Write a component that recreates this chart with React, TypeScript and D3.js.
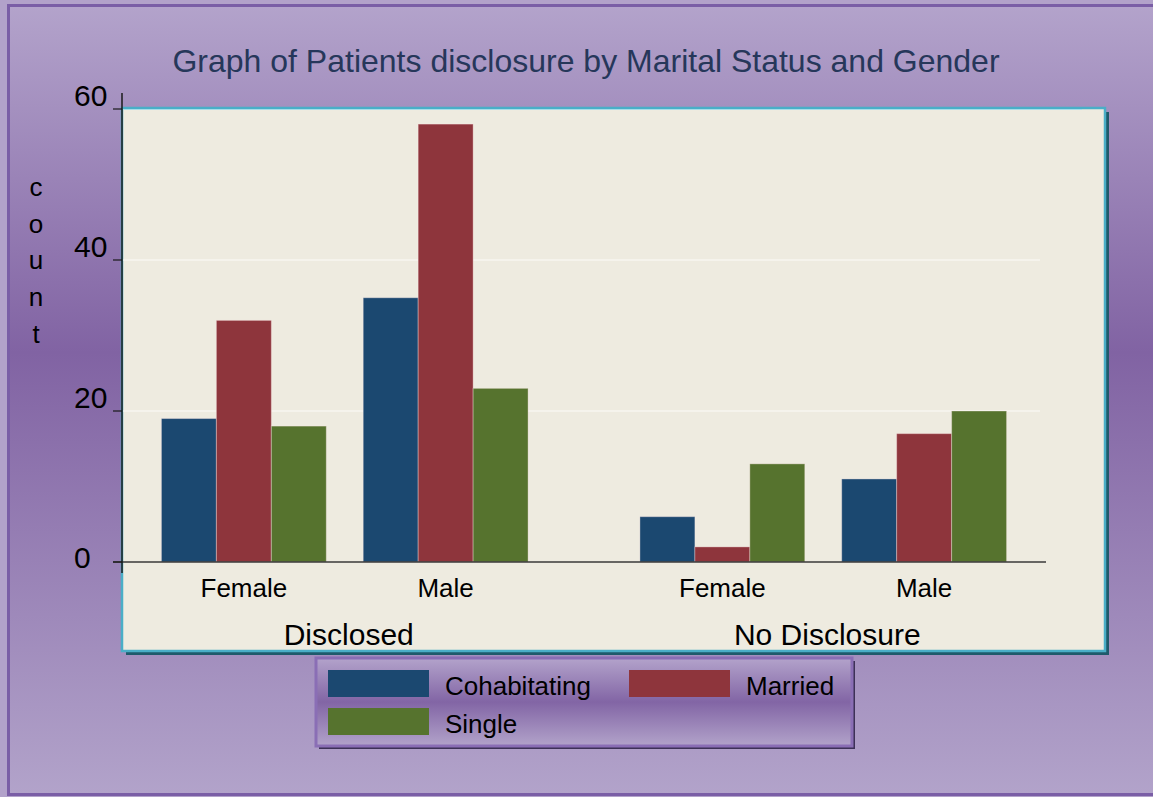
import React from "react";
import * as d3 from "d3";

const groups = ["Disclosed", "No Disclosure"];
const genders = ["Female", "Male"];
const seriesNames = ["Cohabitating", "Married", "Single"];
const cohabitating = [19, 35, 6, 11];
const married = [32, 58, 2, 17];
const single = [18, 23, 13, 20];
const yTicks = [0, 20, 40, 60];
const title = "Graph of Patients disclosure by Marital Status and Gender";
const yLabel = "count";

const seriesValues = [cohabitating, married, single];
const colors = ["#1b4870", "#8e353c", "#56732e"];

const W = 1153;
const H = 797;
const FONT = "Liberation Sans, Arial, Helvetica, sans-serif";

export default function App() {
  const y = d3.scaleLinear().domain([0, 60]).range([562, 109]);
  const x0 = d3.scaleBand<string>().domain(groups).range([122, 1046]).paddingInner(0.1566).paddingOuter(0.0438);
  const x1 = d3.scaleBand<string>().domain(genders).range([0, x0.bandwidth()]).padding(0);
  const x2 = d3.scaleBand<string>().domain(seriesNames).range([0, x1.bandwidth()]).paddingInner(0).paddingOuter(0.336);
  const color = d3.scaleOrdinal<string, string>().domain(seriesNames).range(colors);

  const cells: { g: string; gen: string; s: string; v: number }[] = [];
  groups.forEach((g, gi) =>
    genders.forEach((gen, ji) =>
      seriesNames.forEach((s, si) => {
        cells.push({ g, gen, s, v: seriesValues[si][gi * genders.length + ji] });
      })
    )
  );

  const panel = { x: 122, y: 108, w: 983, h: 543 };
  const legend = { x: 316, y: 658, w: 536, h: 88 };

  return (
    <div style={{ position: "absolute", left: 0, top: 0 }}>
      <svg width={W} height={H} style={{ display: "block" }} fontFamily={FONT}>
        <defs>
          <linearGradient id="bg" x1="0" y1="0" x2="0" y2="1">
            <stop offset="0" stopColor="#b3a3cb" />
            <stop offset="0.44" stopColor="#8163a3" />
            <stop offset="1" stopColor="#b2a3ca" />
          </linearGradient>
          <linearGradient id="lg" x1="0" y1="0" x2="0" y2="1">
            <stop offset="0" stopColor="#b3a3cb" />
            <stop offset="0.5" stopColor="#8265a5" />
            <stop offset="1" stopColor="#b2a3ca" />
          </linearGradient>
        </defs>
        <rect x={0} y={0} width={W} height={H} fill="#b2a2ca" />
        <rect x={8.5} y={5.5} width={1160} height={789} fill="url(#bg)" stroke="#7a5ea6" strokeWidth={3} />

        <text x={586} y={72} textAnchor="middle" fontSize={32} fill="#26375a">{title}</text>

        {/* panel */}
        <rect x={panel.x + 4} y={panel.y + 4} width={panel.w} height={panel.h} fill="#1f5a6b" />
        <rect x={panel.x} y={panel.y} width={panel.w} height={panel.h} fill="#eeebe0" stroke="#4aaec7" strokeWidth={2.5} />
        <line x1={panel.x + 1} x2={panel.x + 960} y1={panel.y + 1.5} y2={panel.y + 1.5} stroke="#a9dde9" strokeWidth={1} />

        {/* gridlines */}
        {yTicks.filter((t) => t > 0 && t < 60).map((t) => (
          <line key={"g" + t} x1={123} x2={1040} y1={y(t)} y2={y(t)} stroke="#fbfbf8" strokeWidth={1.2} />
        ))}

        {/* bars */}
        {cells.map((c, i) => {
          const bx = (x0(c.g) as number) + (x1(c.gen) as number) + (x2(c.s) as number);
          return (
            <rect
              key={i}
              x={bx}
              y={y(c.v)}
              width={x2.bandwidth()}
              height={y(0) - y(c.v)}
              fill={color(c.s)}
              stroke="rgba(255,235,235,0.35)"
              strokeWidth={1}
            />
          );
        })}

        {/* x axis */}
        <line x1={113} x2={1046} y1={y(0)} y2={y(0)} stroke="#3a3a3a" strokeWidth={1.5} />
        {/* y axis */}
        <line x1={122} x2={122} y1={93} y2={573} stroke="#1a1a1a" strokeWidth={1.5} />
        {yTicks.map((t) => (
          <g key={"t" + t}>
            <line x1={113} x2={122} y1={y(t)} y2={y(t)} stroke="#1a1a1a" strokeWidth={1.2} />
            <text x={74} y={y(t) + (t === 0 ? 6 : -3)} fontSize={30} fill="#000">{t}</text>
          </g>
        ))}

        {/* y label stacked */}
        {yLabel.split("").map((ch, i) => (
          <text key={"yl" + i} x={36} y={196 + i * 36.7} textAnchor="middle" fontSize={26} fill="#000">{ch}</text>
        ))}

        {/* gender labels */}
        {groups.map((g) =>
          genders.map((gen) => (
            <text
              key={g + gen}
              x={(x0(g) as number) + (x1(gen) as number) + x1.bandwidth() / 2}
              y={597}
              textAnchor="middle"
              fontSize={26}
              fill="#000"
            >
              {gen}
            </text>
          ))
        )}
        {groups.map((g) => (
          <text key={"grp" + g} x={(x0(g) as number) + x0.bandwidth() / 2 + 4} y={645} textAnchor="middle" fontSize={30} fill="#000">
            {g}
          </text>
        ))}

        {/* legend */}
        <rect x={legend.x + 3} y={legend.y + 3} width={legend.w} height={legend.h} fill="#3d3157" />
        <rect x={legend.x} y={legend.y} width={legend.w} height={legend.h} fill="url(#lg)" stroke="#8a6eb5" strokeWidth={3} />
        {seriesNames.map((s, i) => {
          const col = i % 2;
          const row = Math.floor(i / 2);
          const sx = col === 0 ? 328 : 629;
          const sy = 670 + row * 38;
          const tx = col === 0 ? 445 : 746;
          return (
            <g key={"lg" + s}>
              <rect x={sx} y={sy} width={101} height={27} fill={color(s)} />
              <text x={tx} y={sy + 25} fontSize={26} fill="#000">{s}</text>
            </g>
          );
        })}
      </svg>
    </div>
  );
}
